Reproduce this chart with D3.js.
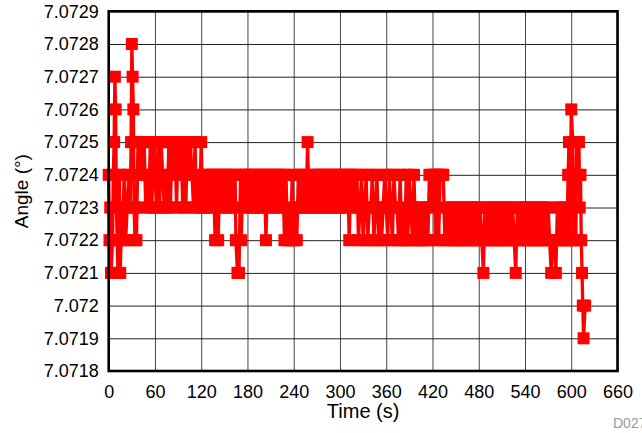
<!DOCTYPE html>
<html><head><meta charset="utf-8">
<script src="https://cdn.jsdelivr.net/npm/d3@7"></script>
<style>
html,body{margin:0;padding:0;background:#fff;}
svg{display:block;font-family:"Liberation Sans",Arial,Helvetica,sans-serif;}
</style></head><body>
<svg id="chart" width="642" height="433"></svg>
<script>
// ---- data ----
const xTicks = [0,60,120,180,240,300,360,420,480,540,600,660];
const yTicks = [7.0718,7.0719,7.0720,7.0721,7.0722,7.0723,7.0724,7.0725,7.0726,7.0727,7.0728,7.0729];
const yTickLabels = ["7.0718","7.0719","7.072","7.0721","7.0722","7.0723","7.0724","7.0725","7.0726","7.0727","7.0728","7.0729"];
const xTitle = "Time (s)";
const yTitle = "Angle (°)";
const figureId = "D027";

const timeSec = [
0,1,2,3,5,6,7,8,9,10,
11,12,14,15,17,18,20,22,24,26,
28,29,30,31,32,33,34,35,36,
38,40,42,44,46,48,50,52,54,56,
58,60,62,64,66,68,70,72,74,76,
78,80,82,84,86,88,90,92,94,96,
98,100,102,104,106,108,110,112,114,116,
118,120,122,
124,126,128,130,132,134,136,138,140,142,
144,146,148,150,152,154,156,158,160,162,
164,165,167,169,171,172,174,176,178,180,
182,184,186,188,190,192,194,196,198,200,
202,204,206,208,210,212,214,216,218,220,
222,224,226,228,230,232,234,236,238,240,
242,244,246,248,250,252,254,256,258,260,
262,264,266,268,270,272,274,276,278,280,
282,284,286,288,290,292,294,296,298,300,
302,304,306,308,310,
312,314,316,318,320,322,324,326,328,330,
332,334,336,338,340,342,344,346,348,350,
352,354,356,358,360,362,364,366,368,370,
372,374,376,378,380,382,384,386,388,390,
392,394,396,398,400,402,404,406,408,410,
412,414,416,418,420,422,424,426,428,430,
432,434,
436,438,440,442,444,446,448,450,452,454,
456,458,460,462,464,466,468,470,472,474,
476,478,480,482,484,486,488,490,492,494,
496,498,500,502,504,506,508,510,512,514,
516,518,520,522,524,526,528,530,532,534,
536,538,540,542,544,546,548,550,552,554,
556,558,560,562,564,566,568,570,572,574,
576,578,580,582,584,586,588,590,592,593,
594,
596,597,598,599,600,602,603,605,606,607,
609,610,611,612,613,614,615,616,618
];

const angleDeg = [
7.0724,7.0722,7.0723,7.0721,7.0722,7.0724,7.0725,7.0727,7.0726,7.0723,
7.0722,7.0721,7.0724,7.0721,7.0723,7.0722,7.0724,7.0722,7.0723,7.0724,
7.0723,7.0725,7.0728,7.0727,7.0726,7.0723,7.0722,7.0723,7.0722,
7.0725,7.0724,7.0725,7.0724,7.0725,7.0723,7.0724,7.0723,7.0725,7.0723,
7.0725,7.0724,7.0723,7.0725,7.0723,7.0725,7.0724,7.0723,7.0724,7.0723,
7.0725,7.0723,7.0725,7.0724,7.0725,7.0723,7.0725,7.0724,7.0725,7.0723,
7.0725,7.0723,7.0725,7.0724,7.0725,7.0724,7.0723,7.0725,7.0723,7.0724,
7.0723,7.0725,7.0723,
7.0724,7.0723,7.0724,7.0723,7.0724,7.0723,7.0724,7.0722,7.0724,7.0722,
7.0724,7.0723,7.0724,7.0723,7.0724,7.0723,7.0724,7.0723,7.0724,7.0723,
7.0724,7.0722,7.0721,7.0721,7.0724,7.0722,7.0724,7.0723,7.0724,7.0723,
7.0724,7.0723,7.0724,7.0723,7.0724,7.0723,7.0724,7.0723,7.0724,7.0723,
7.0724,7.0722,7.0724,7.0723,7.0724,7.0723,7.0724,7.0723,7.0724,7.0723,
7.0724,7.0723,7.0724,7.0722,7.0724,7.0722,7.0723,7.0722,7.0724,7.0722,
7.0723,7.0722,7.0724,7.0723,7.0724,7.0723,7.0724,7.0723,7.0725,7.0723,
7.0724,7.0723,7.0724,7.0723,7.0724,7.0723,7.0724,7.0723,7.0724,7.0723,
7.0724,7.0723,7.0724,7.0723,7.0724,7.0723,7.0724,7.0723,7.0724,7.0723,
7.0724,7.0723,7.0724,7.0723,7.0724,
7.0722,7.0724,7.0723,7.0724,7.0723,7.0724,7.0722,7.0723,7.0724,7.0722,
7.0723,7.0724,7.0722,7.0723,7.0723,7.0724,7.0722,7.0723,7.0724,7.0722,
7.0723,7.0722,7.0723,7.0724,7.0723,7.0722,7.0724,7.0723,7.0722,7.0724,
7.0723,7.0723,7.0722,7.0724,7.0722,7.0723,7.0722,7.0724,7.0722,7.0724,
7.0723,7.0722,7.0724,7.0722,7.0723,7.0722,7.0723,7.0722,7.0723,7.0722,
7.0723,7.0722,7.0724,7.0723,7.0724,7.0724,7.0722,7.0724,7.0722,7.0724,
7.0724,7.0724,
7.0722,7.0723,7.0722,7.0723,7.0722,7.0723,7.0722,7.0723,7.0722,7.0723,
7.0722,7.0723,7.0722,7.0723,7.0722,7.0723,7.0722,7.0723,7.0722,7.0723,
7.0722,7.0723,7.0722,7.0723,7.0722,7.0721,7.0723,7.0722,7.0723,7.0722,
7.0723,7.0722,7.0723,7.0722,7.0723,7.0722,7.0723,7.0722,7.0723,7.0722,
7.0723,7.0722,7.0723,7.0722,7.0723,7.0722,7.0721,7.0723,7.0722,7.0723,
7.0722,7.0723,7.0722,7.0723,7.0722,7.0723,7.0722,7.0723,7.0722,7.0723,
7.0722,7.0723,7.0722,7.0723,7.0722,7.0723,7.0722,7.0723,7.0722,7.0721,
7.0722,7.0722,7.0721,7.0723,7.0722,7.0723,7.0722,7.0723,7.0722,7.0723,
7.0722,
7.0724,7.0725,7.0722,7.0724,7.0726,7.0725,7.0722,7.0724,7.0722,7.0725,
7.0724,7.0725,7.0723,7.0724,7.0722,7.0721,7.0720,7.0719,7.0720
];

// ---- layout ----
const plot = {left:108.7, right:617.5, top:11.3, bottom:371};
const svg = d3.select("#chart");

const x = d3.scaleLinear().domain([0,660]).range([plot.left, plot.right]);
const y = d3.scaleLinear().domain([7.0718,7.0729]).range([plot.bottom, plot.top]);

// grid + tick labels via axes
const gx = svg.append("g")
  .attr("transform", `translate(0,${plot.bottom})`)
  .call(d3.axisBottom(x).tickValues(xTicks).tickFormat(d=>String(d))
        .tickSize(-(plot.bottom-plot.top)).tickPadding(14));
gx.select(".domain").remove();
gx.selectAll(".tick line").attr("stroke","#444").attr("stroke-width",1);
gx.selectAll(".tick text").attr("font-size",18).attr("fill","#000")
  .attr("font-family","'Liberation Sans',Arial,sans-serif");

const gy = svg.append("g")
  .attr("transform", `translate(${plot.left},0)`)
  .call(d3.axisLeft(y).tickValues(yTicks).tickFormat((d,i)=>yTickLabels[i])
        .tickSize(-(plot.right-plot.left)).tickPadding(10));
gy.select(".domain").remove();
gy.selectAll(".tick line").attr("stroke","#222").attr("stroke-width",1);
gy.selectAll(".tick text").attr("font-size",18).attr("fill","#000")
  .attr("font-family","'Liberation Sans',Arial,sans-serif");

// data series
const pts = timeSec.map((t,i)=>({t, v:angleDeg[i]}));
const line = d3.line().x(d=>x(d.t)).y(d=>y(d.v));
svg.append("path").datum(pts)
  .attr("d", line).attr("fill","none")
  .attr("stroke","#ff0000").attr("stroke-width",3.3)
  .attr("stroke-linejoin","round");

const ms = 12;
svg.append("g").selectAll("rect").data(pts).join("rect")
  .attr("x", d=>x(d.t)-ms/2).attr("y", d=>y(d.v)-ms/2)
  .attr("width", ms).attr("height", ms).attr("fill","#ff0000");

// frame
svg.append("rect")
  .attr("x", plot.left).attr("y", plot.top)
  .attr("width", plot.right-plot.left).attr("height", plot.bottom-plot.top)
  .attr("fill","none").attr("stroke","#000").attr("stroke-width",2.6);

// titles
svg.append("text").attr("x",(plot.left+plot.right)/2).attr("y",418)
  .attr("text-anchor","middle").attr("font-size",20).attr("fill","#000").text(xTitle);
svg.append("text").attr("transform",`translate(21,${(plot.top+plot.bottom)/2}) rotate(-90)`)
  .attr("text-anchor","middle").attr("dominant-baseline","central")
  .attr("font-size",19).attr("fill","#000").text(yTitle);
svg.append("text").attr("x",613).attr("y",428)
  .attr("font-size",14).attr("fill","#999").text(figureId);
</script>
</body></html>
